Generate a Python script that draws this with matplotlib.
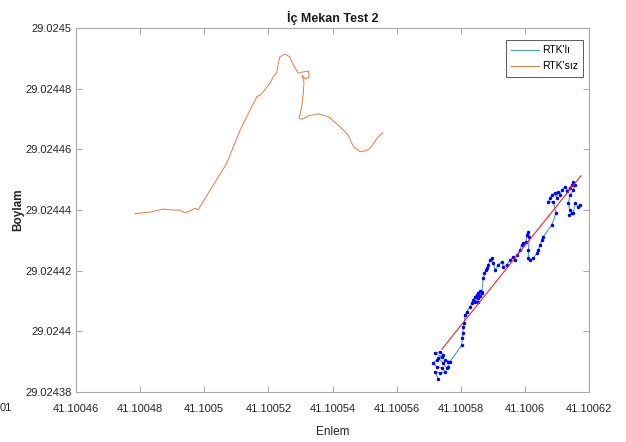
import numpy as np
import matplotlib
matplotlib.use("Agg")
import matplotlib.pyplot as plt
import matplotlib as mpl

mpl.rcParams['font.family'] = ['Liberation Sans', 'DejaVu Sans']
mpl.rcParams['axes.linewidth'] = 0.8

# RTK'siz (orange track)
enlem_siz = [41.1004784, 41.1004831, 41.1004872, 41.1004899, 41.1004924, 41.1004940,
             41.1004950, 41.1004961, 41.1004971, 41.1004981, 41.1004987, 41.1005070,
             41.1005112, 41.1005164, 41.1005174, 41.1005184, 41.1005205, 41.1005215,
             41.1005226, 41.1005231, 41.1005236, 41.1005252, 41.1005267, 41.1005278,
             41.1005293, 41.1005308, 41.1005325, 41.1005327, 41.1005314, 41.1005305,
             41.1005311, 41.1005309, 41.1005304, 41.1005296, 41.1005304, 41.1005325,
             41.1005356, 41.1005387, 41.1005423, 41.1005449, 41.1005465, 41.1005486,
             41.1005507, 41.1005522, 41.1005538, 41.1005557]
boylam_siz = [29.0244388, 29.0244393, 29.0244403, 29.0244400, 29.0244400, 29.0244391,
              29.0244394, 29.0244400, 29.0244406, 29.0244400, 29.0244411, 29.0244554,
              29.0244664, 29.0244774, 29.0244779, 29.0244790, 29.0244818, 29.0244839,
              29.0244853, 29.0244884, 29.0244905, 29.0244914, 29.0244905, 29.0244878,
              29.0244851, 29.0244855, 29.0244858, 29.0244838, 29.0244832, 29.0244845,
              29.0244823, 29.0244785, 29.0244741, 29.0244702, 29.0244699, 29.0244710,
              29.0244717, 29.0244708, 29.0244675, 29.0244647, 29.0244609, 29.0244592,
              29.0244596, 29.0244609, 29.0244636, 29.0244655]

# RTK'li (blue track with dots)
enlem_rtk = [41.1005730, 41.1005720, 41.1005735, 41.1005751, 41.1005741, 41.1005725,
             41.1005714, 41.1005725, 41.1005741, 41.1005720, 41.1005735, 41.1005746,
             41.1005730, 41.1005746, 41.1005756, 41.1005761, 41.1005761, 41.1005751,
             41.1005767, 41.1005803, 41.1005805, 41.1005806, 41.1005808, 41.1005811,
             41.1005813, 41.1005819, 41.1005829, 41.1005834, 41.1005839, 41.1005844,
             41.1005850, 41.1005855, 41.1005860, 41.1005865, 41.1005855, 41.1005844,
             41.1005853, 41.1005860, 41.1005866, 41.1005870, 41.1005874, 41.1005878,
             41.1005881, 41.1005886, 41.1005891, 41.1005897, 41.1005902, 41.1005907,
             41.1005917, 41.1005928, 41.1005933, 41.1005943, 41.1005954, 41.1005964,
             41.1005969, 41.1005975, 41.1005985, 41.1005990, 41.1005995, 41.1006004,
             41.1006006, 41.1006011, 41.1006014, 41.1006011, 41.1006011, 41.1006016,
             41.1006026, 41.1006037, 41.1006042, 41.1006047, 41.1006053, 41.1006058,
             41.1006084, 41.1006097, 41.1006089, 41.1006073, 41.1006078, 41.1006084,
             41.1006094, 41.1006099, 41.1006104, 41.1006110, 41.1006115, 41.1006125,
             41.1006132, 41.1006141, 41.1006146, 41.1006151, 41.1006156, 41.1006151,
             41.1006141, 41.1006135, 41.1006141, 41.1006146, 41.1006139, 41.1006151,
             41.1006156, 41.1006167, 41.1006172]
boylam_rtk = [29.0243842, 29.0243867, 29.0243862, 29.0243867, 29.0243879, 29.0243883,
              29.0243896, 29.0243905, 29.0243916, 29.0243928, 29.0243933, 29.0243922,
              29.0243912, 29.0243895, 29.0243878, 29.0243883, 29.0243900, 29.0243905,
              29.0243900, 29.0243955, 29.0243977, 29.0243994, 29.0244015, 29.0244027,
              29.0244054, 29.0244065, 29.0244081, 29.0244092, 29.0244103, 29.0244114,
              29.0244120, 29.0244125, 29.0244134, 29.0244125, 29.0244109, 29.0244098,
              29.0244098, 29.0244117, 29.0244130, 29.0244175, 29.0244191, 29.0244202,
              29.0244209, 29.0244219, 29.0244235, 29.0244241, 29.0244224, 29.0244202,
              29.0244219, 29.0244230, 29.0244213, 29.0244219, 29.0244235, 29.0244246,
              29.0244235, 29.0244252, 29.0244268, 29.0244285, 29.0244290, 29.0244296,
              29.0244318, 29.0244328, 29.0244312, 29.0244268, 29.0244241, 29.0244235,
              29.0244241, 29.0244257, 29.0244268, 29.0244285, 29.0244301, 29.0244312,
              29.0244351, 29.0244389, 29.0244427, 29.0244427, 29.0244439, 29.0244449,
              29.0244455, 29.0244439, 29.0244460, 29.0244449, 29.0244466, 29.0244477,
              29.0244464, 29.0244472, 29.0244482, 29.0244493, 29.0244482, 29.0244466,
              29.0244449, 29.0244422, 29.0244400, 29.0244389, 29.0244384, 29.0244389,
              29.0244422, 29.0244411, 29.0244417]

# linear fit line (red)
enlem_fit = [41.1005741, 41.1006175]
boylam_fit = [29.0243941, 29.0244513]

xticks = [41.10046, 41.10048, 41.10050, 41.10052, 41.10054, 41.10056, 41.10058, 41.10060, 41.10062]
xticklabels = ['41.10046', '41.10048', '41.1005', '41.10052', '41.10054', '41.10056',
               '41.10058', '41.1006', '41.10062']
yticks = [29.02438, 29.02440, 29.02442, 29.02444, 29.02446, 29.02448, 29.02450]
yticklabels = ['29.02438', '29.0244', '29.02442', '29.02444', '29.02446', '29.02448', '29.0245']

fig = plt.figure(figsize=(6.26, 4.42), dpi=100)
ax = fig.add_axes([76/626, 1-392/442, 513/626, 364/442])

l1, = ax.plot(enlem_rtk, boylam_rtk, color='#4a9bd0', lw=0.8)
l2, = ax.plot(enlem_siz, boylam_siz, color='#e67a45', lw=0.7)
ax.plot(enlem_rtk, boylam_rtk, 'b.', ms=3)
ax.plot(enlem_fit, boylam_fit, color='#ff2020', lw=0.8)

ax.set_xlim(41.10046, 41.10062)
ax.set_ylim(29.02438, 29.0245)
ax.set_xticks(xticks)
ax.set_xticklabels(xticklabels)
ax.set_yticks(yticks)
ax.set_yticklabels(yticklabels)
ax.tick_params(direction='in', length=4, width=0.6, top=True, right=True,
               labelsize=8, colors='#9a9a9a', labelcolor='#262626')
ax.tick_params(axis='x', pad=8.5)
ax.tick_params(axis='y', pad=3)
for s in ax.spines.values():
    s.set_color('#a8a8a8')

ax.set_title('İç Mekan Test 2', fontsize=9, fontweight='bold', color='#1a1a1a', pad=4)
ax.set_xlabel('Enlem', fontsize=8.5, color='#262626', labelpad=9)
ax.set_ylabel('Boylam', fontsize=8.5, fontweight='bold', color='#262626', labelpad=1)

leg = ax.legend([l1, l2], ["RTK'lı", "RTK'sız"], loc='upper right',
                bbox_to_anchor=(0.988, 0.967), borderaxespad=0, fancybox=False,
                fontsize=7.5, handlelength=2.6, framealpha=1, edgecolor='#404040',
                borderpad=0.5, labelspacing=0.6, handletextpad=0.3)
leg.get_frame().set_linewidth(0.6)

fig.text(0.0, 1-408/442, '01', fontsize=8, color='#262626', va='center', ha='left')

fig.savefig('out.png', dpi=100)
